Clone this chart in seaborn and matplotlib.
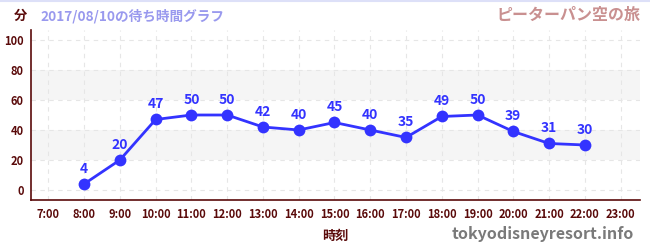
import numpy as np
import pandas as pd
import matplotlib.pyplot as plt
import seaborn as sns

hours = [8, 9, 10, 11, 12, 13, 14, 15, 16, 17, 18, 19, 20, 21, 22]
waits = [4, 20, 47, 50, 50, 42, 40, 45, 40, 35, 49, 50, 39, 31, 30]
tick_hours = list(range(7, 24))
tick_labels = [f"{h}:00" for h in tick_hours]

df = pd.DataFrame({'hour': hours, 'wait': waits})

sns.set_style('white')
plt.rcParams['font.family'] = ['Noto Sans CJK JP', 'DejaVu Sans']

dark = '#5a0a0a'
blue = '#3333ff'

fig = plt.figure(figsize=(6.5, 2.5), dpi=100)
ax = fig.add_axes([0.048, 0.2, 0.937, 0.68])

# background bands
for lo, hi in [(20, 40), (60, 80)]:
    ax.axhspan(lo, hi, color='#f5f5f5', zorder=0, lw=0)

sns.lineplot(data=df, x='hour', y='wait', ax=ax, color=blue, lw=2,
             marker='o', markersize=8.5, markeredgewidth=0, zorder=3)

for h, w in zip(hours, waits):
    ax.annotate(str(w), (h, w), xytext=(0, 6), textcoords='offset points',
                ha='center', va='bottom', color=blue, fontsize=10,
                fontweight='bold')

ax.set_xlim(6.52, 23.55)
ax.set_ylim(-6.7, 106.7)
ax.set_xticks(tick_hours)
ax.set_xticklabels(tick_labels)
ax.set_yticks([0, 20, 40, 60, 80, 100])
ax.set_yticks([10, 30, 50, 70, 90], minor=True)
ax.tick_params(axis='both', which='major', labelsize=8, colors='black',
               labelcolor=dark, length=4, direction='inout')
ax.tick_params(axis='y', which='minor', length=3, color='red', direction='in')
ax.tick_params(axis='x', colors='#666666', labelcolor=dark)
for lab in ax.get_xticklabels() + ax.get_yticklabels():
    lab.set_fontweight('bold')

ax.grid(True, which='major', color='#e6e6e6', ls=(0, (4, 4)), lw=0.8)
ax.set_axisbelow(True)

for s in ['top', 'right']:
    ax.spines[s].set_visible(False)
ax.spines['left'].set_color(dark)
ax.spines['bottom'].set_color(dark)
ax.spines['left'].set_linewidth(1.2)
ax.spines['bottom'].set_linewidth(1.2)

ax.set_xlabel('時刻', color=dark, fontsize=9.5, fontweight='bold', labelpad=6)
ax.set_ylabel('')

fig.text(0.032, 0.935, '分', color=dark, fontsize=9.5, fontweight='bold',
         ha='center', va='center')
fig.text(0.062, 0.935, '2017/08/10の待ち時間グラフ', color='#9999ee',
         fontsize=9.8, fontweight='bold', ha='left', va='center')
fig.text(0.985, 0.94, 'ピーターパン空の旅', color='#c99090', fontsize=11.5,
         fontweight='bold', ha='right', va='center')
fig.text(0.975, 0.065, 'tokyodisneyresort.info', color='#7a7a7a',
         fontsize=11.5, fontweight='bold', ha='right', va='center')

fig.add_artist(plt.Line2D([0, 1], [0.997, 0.997], color='#dde0f8', lw=1.5))

fig.savefig('out.png', dpi=100)
